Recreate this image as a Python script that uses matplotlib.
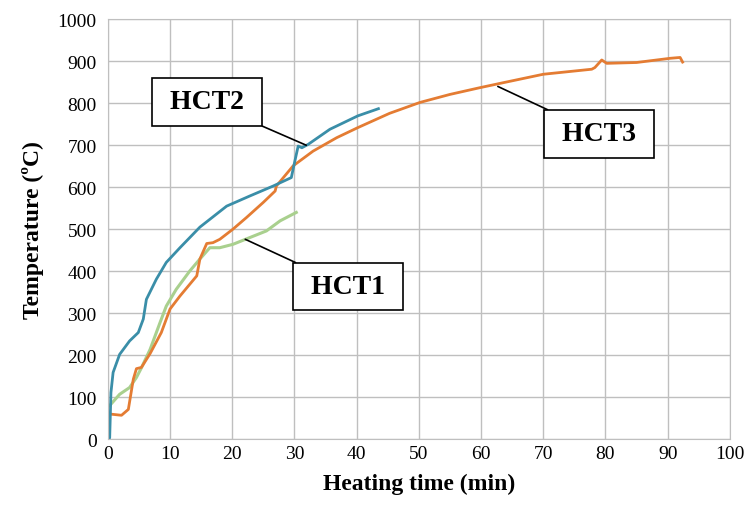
import numpy as np
import matplotlib
matplotlib.use("Agg")
import matplotlib.pyplot as plt

plt.rcParams['font.family'] = ['Liberation Serif', 'DejaVu Serif']

# HCT1 (green)
hct1_t = [0.3, 1.9, 3.5, 4.6, 5.4, 6.8, 8.4, 9.4, 11.0, 13.2, 14.8, 16.4, 18.0, 20.1, 22.8, 25.5, 27.7, 30.3]
hct1_T = [80, 107, 123, 147, 170, 214, 278, 317, 357, 401, 429, 456, 456, 464, 480, 496, 520, 540]

# HCT2 (blue)
hct2_t = [0.2, 0.3, 0.5, 0.85, 1.9, 3.5, 4.9, 5.7, 6.2, 7.8, 9.4, 11.6, 14.8, 19.1, 22.8, 26.6, 29.5,
          29.9, 30.6, 31.2, 32.2, 35.7, 40.2, 43.5]
hct2_T = [0, 4, 111, 159, 202, 234, 254, 286, 333, 381, 421, 456, 505, 555, 579, 603, 623,
          651, 698, 694, 702, 738, 770, 787]

# HCT3 (orange)
hct3_t = [0.3, 2.2, 3.3, 4.1, 4.6, 5.4, 6.8, 8.6, 10.0, 11.6, 14.3, 14.8, 15.9, 16.9, 18.0, 20.1,
          22.3, 25.0, 26.9, 27.1, 29.8, 33.0, 36.8, 40.2, 45.3, 50.2, 55.0, 59.8, 63.6, 70.0,
          77.8, 78.3, 79.4, 80.2, 85.0, 90.4, 92.0, 92.4]
hct3_T = [60, 57, 71, 143, 168, 171, 204, 254, 310, 341, 389, 429, 466, 468, 476, 500,
          528, 564, 591, 603, 651, 686, 718, 742, 776, 802, 821, 837, 849, 869,
          881, 885, 903, 895, 897, 907, 909, 898]

x_ticks = list(range(0, 101, 10))
y_ticks = list(range(0, 1001, 100))

fig = plt.figure(figsize=(7.54, 5.06), dpi=100)
ax = fig.add_axes([0.143, 0.130, 0.825, 0.830])

ax.plot(hct1_t, hct1_T, color='#A9D08E', lw=2.2)
ax.plot(hct3_t, hct3_T, color='#E47C33', lw=2.0)
ax.plot(hct2_t, hct2_T, color='#3A8EA8', lw=2.0)

ax.set_xlim(0, 100)
ax.set_ylim(0, 1000)
ax.set_xticks(x_ticks)
ax.set_yticks(y_ticks)
ax.tick_params(axis='x', length=0, labelsize=14, pad=4)
ax.tick_params(axis='y', length=0, labelsize=14, pad=8)
ax.grid(True, color='#BFBFBF', lw=1)
ax.set_axisbelow(True)
for s in ax.spines.values():
    s.set_color('#BFBFBF')

ax.set_xlabel("Heating time (min)", fontsize=17, fontweight='bold', labelpad=8)
ax.set_ylabel("Temperature (ºC)", fontsize=17, fontweight='bold', labelpad=10)

box = dict(boxstyle='square,pad=0.4', fc='white', ec='black', lw=1.2)
arrow = dict(arrowstyle='-', color='black', lw=1.2, shrinkA=0, shrinkB=0)
ax.annotate(" HCT2 ", xy=(31.9, 700), xytext=(15.9, 803), fontsize=20, fontweight='bold',
            ha='center', va='center', bbox=box, arrowprops=arrow)
ax.annotate(" HCT1 ", xy=(22.1, 476), xytext=(38.6, 363), fontsize=20, fontweight='bold',
            ha='center', va='center', bbox=box, arrowprops=arrow)
ax.annotate(" HCT3 ", xy=(62.7, 840), xytext=(79.0, 727), fontsize=20, fontweight='bold',
            ha='center', va='center', bbox=box, arrowprops=arrow)

fig.savefig("out.png", dpi=100)
